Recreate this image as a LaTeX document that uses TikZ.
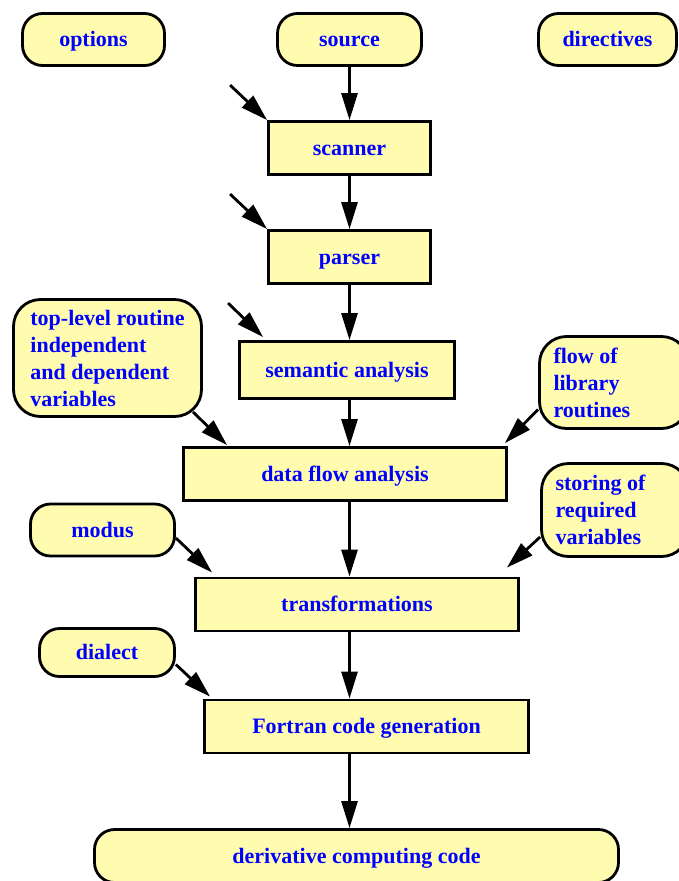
\documentclass[tikz,border=0pt]{standalone}
\usepackage{fontspec}
\setmainfont{Liberation Serif}
\usetikzlibrary{arrows.meta}
\definecolor{boxfill}{RGB}{255,252,176}
\definecolor{boxtext}{RGB}{0,0,255}
\tikzset{
BOX/.style ={draw=black,line width=2.8pt,fill=boxfill,text=boxtext,font=\fontsize{22}{27}\selectfont\bfseries,inner sep=0pt},
STAGE/.style={BOX,rectangle,minimum height=53pt,text height=16pt,text depth=2pt},
INPUT/.style={BOX,rounded corners=20pt,minimum height=52pt,text height=16pt,text depth=2pt},
NOTE/.style={BOX,rounded corners=27pt,align=flush left},
ARROW/.style={draw=black,line width=2.8pt,-{Triangle[length=27pt,width=16pt]}},
}
\begin{document}
\begin{tikzpicture}[x=1pt,y=-1pt]
	\useasboundingbox (0,0) rectangle (679,881);
	%Inputs
	\node[INPUT,minimum width=142pt] (options) at (93.5,39.5) {options};
	\node[INPUT,minimum width=144pt] (source) at (349.5,39.5) {source};
	\node[INPUT,minimum width=138pt] (directives) at (607.5,39.5) {directives};
	%Stages
	\node[STAGE,minimum width=162pt] (scanner) at (349.5,148) {scanner};
	\node[STAGE,minimum width=162pt] (parser) at (349.5,257) {parser};
	\node[STAGE,minimum width=215pt,minimum height=57pt] (semantic) at (347,370) {semantic analysis};
	\node[STAGE,minimum width=323pt] (dataflow) at (345,474) {data flow analysis};
	\node[STAGE,minimum width=323pt] (transf) at (357,604.5) {transformations};
	\node[STAGE,minimum width=324pt] (fortran) at (366.5,726.5) {Fortran code generation};
	\node[INPUT,minimum width=524pt,minimum height=53pt] (derivcode) at (356.5,856) {derivative computing code};
	%Side inputs
	\node[NOTE,minimum width=188pt,minimum height=117pt] (toplevel) at (107.5,358)
		{top-level routine\\independent\\and dependent\\variables};
	\node[NOTE,text width=121pt,inner xsep=14pt,minimum height=92pt] (flowlib) at (614,382.5)
		{flow of\\library\\routines};
	\node[NOTE,text width=119pt,inner xsep=14pt,minimum height=93pt] (storing) at (615,510)
		{storing of\\required\\variables};
	\node[INPUT,minimum width=144pt] (modus) at (102.5,530) {modus};
	\node[INPUT,minimum width=135pt,minimum height=48pt] (dialect) at (107,652.5) {dialect};
	%Main flow
	\draw[ARROW] (source) -- (scanner);
	\draw[ARROW] (scanner) -- (parser);
	\draw[ARROW] (parser.south) -- (semantic.north -| parser);
	\draw[ARROW] (semantic.south -| parser) -- (dataflow.north -| parser);
	\draw[ARROW] (dataflow.south -| parser) -- (transf.north -| parser);
	\draw[ARROW] (transf.south -| parser) -- (fortran.north -| parser);
	\draw[ARROW] (fortran.south -| parser) -- (derivcode.north -| parser);
	%Loose arrows
	\draw[ARROW] ([shift={(-37,-35)}]scanner.north west) -- (scanner.north west);
	\draw[ARROW] ([shift={(-37,-35)}]parser.north west) -- (parser.north west);
	\draw[ARROW] ([shift={(-10,-37)}]semantic.north west) -- ([shift={(25,-3)}]semantic.north west);
	%Side arrows
	\draw[ARROW] ([shift={(-10,-6)}]toplevel.south east) -- ([shift={(45,-1)}]dataflow.north west);
	\draw[ARROW] ([shift={(0,27)}]flowlib.west) -- ([shift={(-3,-3)}]dataflow.north east);
	\draw[ARROW] ([shift={(0,8)}]modus.east) -- ([shift={(18,-4)}]transf.north west);
	\draw[ARROW] ([shift={(0,27)}]storing.west) -- ([shift={(-13,-9)}]transf.north east);
	\draw[ARROW] ([shift={(0,12)}]dialect.east) -- ([shift={(7,-2)}]fortran.north west);
\end{tikzpicture}
\end{document}
